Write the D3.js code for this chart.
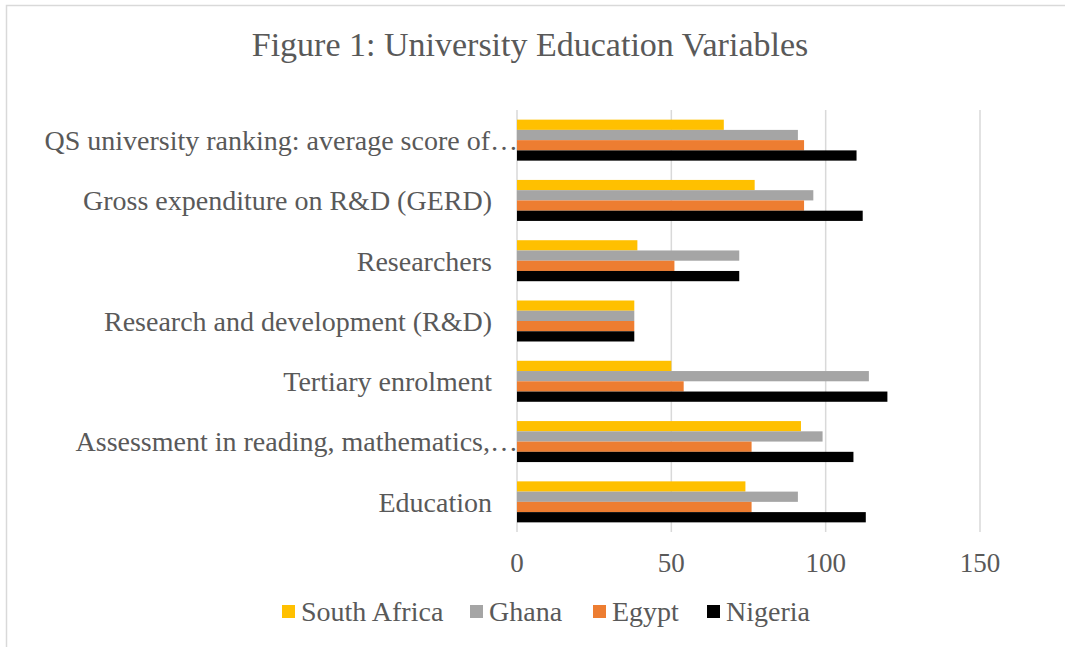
<!DOCTYPE html>
<html>
<head>
  <meta charset="utf-8">
  <script src="https://d3js.org/d3.v7.min.js"></script>
  <style>
    body { margin: 0; background: #fff; }
    text { font-family: "Liberation Serif", "Times New Roman", serif; fill: #595959; }
  </style>
</head>
<body>
  <div id="chart"></div>
  <script>

    // categories, top to bottom as shown
    var categories = [
      "QS university ranking: average score of\u2026",
      "Gross expenditure on R&D (GERD)",
      "Researchers",
      "Research and development (R&D)",
      "Tertiary enrolment",
      "Assessment in reading, mathematics,\u2026",
      "Education"
    ]
    var countries = ["South Africa", "Ghana", "Egypt", "Nigeria"]
    var colors = ["#ffc000", "#a5a5a5", "#ed7d31", "#000000"]

    // values per country, same order as categories
    var southAfrica = [67, 77, 39, 38, 50, 92, 74]
    var ghana       = [91, 96, 72, 38, 114, 99, 91]
    var egypt       = [93, 93, 51, 38, 54, 76, 76]
    var nigeria     = [110, 112, 72, 38, 120, 109, 113]
    var seriesValues = [southAfrica, ghana, egypt, nigeria]

    var xTicks = [0, 50, 100, 150]

    var width = 1065, height = 647

    var svg = d3.select("#chart")
      .append("svg")
      .attr("width", width)
      .attr("height", height)

    // chart border
    svg.append("rect")
      .attr("x", 6.5).attr("y", 5.5)
      .attr("width", 1070).attr("height", 660)
      .attr("fill", "none")
      .attr("stroke", "#d9d9d9")
      .attr("stroke-width", 1.5)

    svg.append("text")
      .attr("x", 530)
      .attr("y", 56)
      .attr("text-anchor", "middle")
      .style("font-size", "34px")
      .text("Figure 1: University Education Variables")

    var x = d3.scaleLinear()
      .domain([0, 150])
      .range([517, 980])

    var y = d3.scaleBand()
      .domain(categories)
      .range([110, 532])
      .paddingInner(0.32)
      .paddingOuter(0.16)

    var ySub = d3.scaleBand()
      .domain(countries)
      .range([0, y.bandwidth()])

    // gridlines
    svg.selectAll(".grid")
      .data(xTicks)
      .enter()
      .append("line")
      .attr("x1", function(d) { return x(d) })
      .attr("x2", function(d) { return x(d) })
      .attr("y1", 110)
      .attr("y2", 532)
      .attr("stroke", "#d9d9d9")
      .attr("stroke-width", 1.5)

    // bars
    var rows = []
    categories.forEach(function(c, i) {
      countries.forEach(function(k, j) {
        rows.push({cat: c, country: k, value: seriesValues[j][i], color: colors[j]})
      })
    })

    svg.selectAll(".bar")
      .data(rows)
      .enter()
      .append("rect")
      .attr("x", x(0))
      .attr("y", function(d) { return y(d.cat) + ySub(d.country) })
      .attr("width", function(d) { return x(d.value) - x(0) })
      .attr("height", ySub.bandwidth())
      .attr("fill", function(d) { return d.color })

    // category labels
    svg.selectAll(".cat")
      .data(categories)
      .enter()
      .append("text")
      .attr("x", function(d) { return d.slice(-1) === "\u2026" ? 518 : 492 })
      .attr("y", function(d) { return y(d) + y.bandwidth() / 2 })
      .attr("dy", "0.35em")
      .attr("text-anchor", "end")
      .style("font-size", "28px")
      .text(function(d) { return d })

    // x tick labels
    svg.selectAll(".tick")
      .data(xTicks)
      .enter()
      .append("text")
      .attr("x", function(d) { return x(d) })
      .attr("y", 563)
      .attr("dy", "0.35em")
      .attr("text-anchor", "middle")
      .style("font-size", "27px")
      .text(function(d) { return d })

    // legend
    var legendX = [282, 470, 593, 707]
    var legend = svg.selectAll(".legend")
      .data(countries)
      .enter()
      .append("g")
      .attr("transform", function(d, i) { return "translate(" + legendX[i] + ",605)" })

    legend.append("rect")
      .attr("width", 13).attr("height", 13)
      .attr("fill", function(d, i) { return colors[i] })

    legend.append("text")
      .attr("x", 19)
      .attr("y", 6.5)
      .attr("dy", "0.35em")
      .style("font-size", "28px")
      .text(function(d) { return d })

  </script>
</body>
</html>
